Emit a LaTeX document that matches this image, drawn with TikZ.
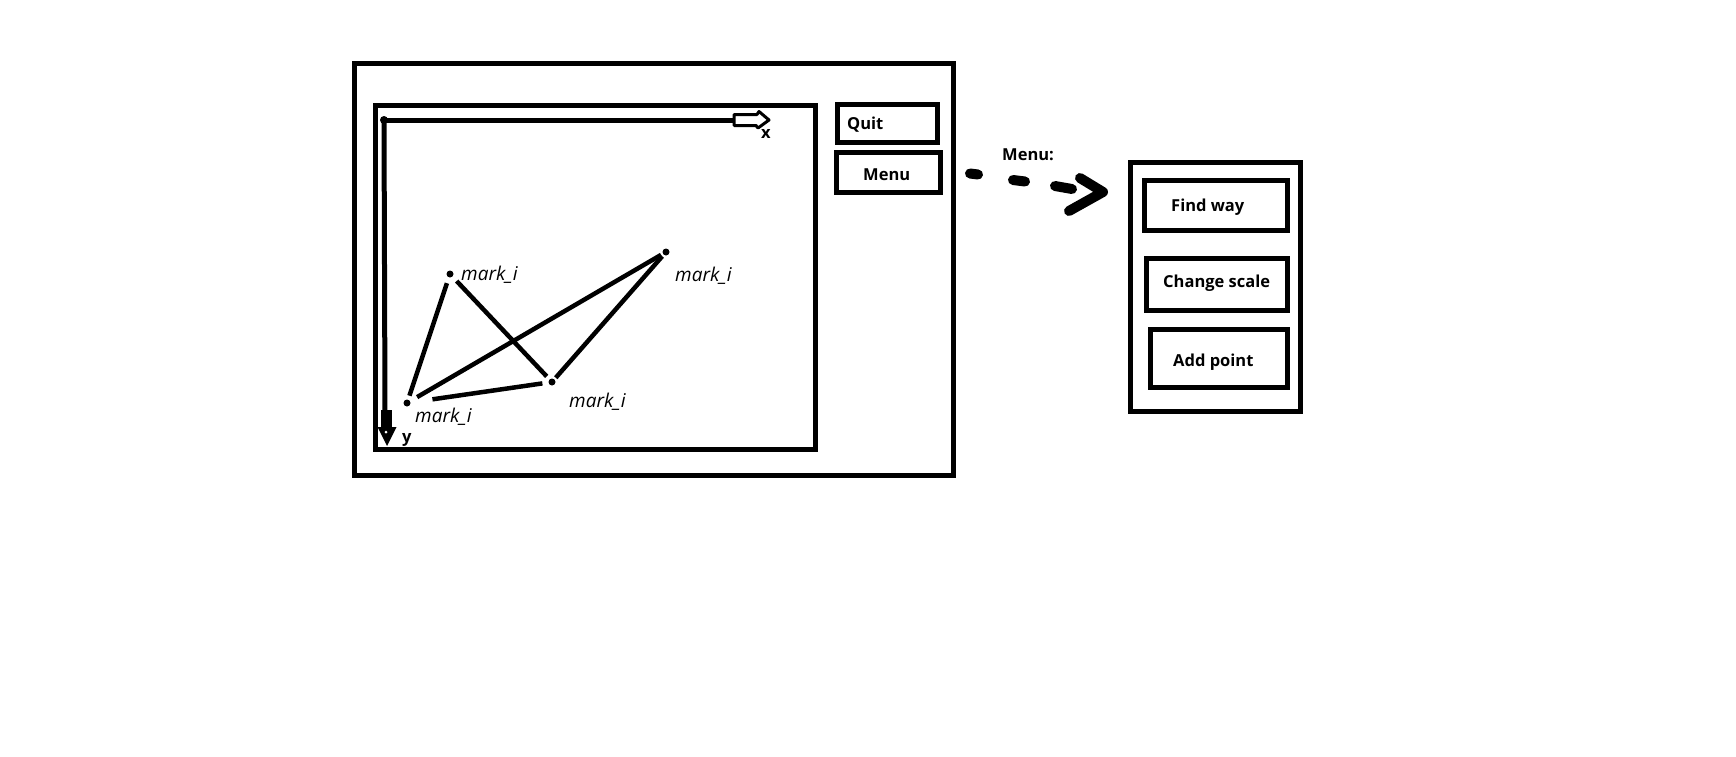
\documentclass[tikz,border=0pt]{standalone}
\usepackage{fontspec}
\setmainfont{Open Sans}
\begin{document}
\begin{tikzpicture}[x=1pt,y=-1pt,
  box/.style={draw,line width=5pt,inner sep=0pt,minimum width=#1},
  btntext/.style={anchor=base west,inner sep=0pt,font=\fontsize{16.5}{18}\selectfont\bfseries},
  marktext/.style={anchor=base west,inner sep=0pt,font=\fontsize{19}{21}\selectfont\itshape},
  dot/.style={circle,fill,inner sep=0pt,minimum size=7pt},
  edge/.style={line width=4.5pt,shorten <=#1},
  stroke/.style={line width=10pt,line cap=round,line join=round}]
\useasboundingbox (0,0) rectangle (1736,756);
\fill[white] (0,0) rectangle (1736,756);
% frames
\node[box=599pt,minimum height=412pt] (outer) at (653.5,269) {};
\node[box=440pt,minimum height=344pt] (inner) at (595,277) {};
\node[box=100pt,minimum height=38pt] (quit) at (887,123) {};
\node[box=104pt,minimum height=40pt] (menu) at (888,172) {};
\node[box=170pt,minimum height=249pt] (panel) at (1215,286.5) {};
\node[box=143pt,minimum height=50pt] (find) at (1215.5,205) {};
\node[box=141pt,minimum height=52pt] (change) at (1216.5,284) {};
\node[box=137pt,minimum height=58pt] (add) at (1218.5,358) {};
% button texts
\node[btntext] (quitt) at (847,129) {Quit};
\node[btntext] (menut) at (863,180) {Menu};
\node[btntext] (findt) at (1171,211) {Find way};
\node[btntext] (changet) at (1163,287) {Change scale};
\node[btntext] (addt) at (1173,366) {Add point};
\node[btntext] (menulab) at (1002,160) {Menu:};
% axes
\node[dot,minimum size=8pt] (o) at (384,120) {};
\coordinate (xend) at (735,120);
\coordinate (yend) at (385,412);
\draw[line width=5pt] (o.center) -- (xend);
\draw[line width=5pt] (o.center) -- (yend);
\draw[line width=3pt,line join=round,fill=white]
  (734,114.5) -- (757,114.5) -- (759,111.5) -- (769,120) -- (758,128) -- (756,125.5) -- (734,125.5) -- cycle;
\fill (380.5,410) rectangle (391.5,430);
\fill (377.5,427) -- (396.5,427) -- (387,446) -- cycle;
\fill[white] (386,432) circle (1.5);
\node[btntext] (xl) at (761,138) {x};
\node[btntext] (yl) at (402,442) {y};
% marks
\node[dot] (p1) at (450,274) {};
\node[dot] (p2) at (666,252) {};
\node[dot] (p3) at (552,382) {};
\node[dot] (p4) at (407,403) {};
\node[marktext] (l1) at (461,280) {mark\_i};
\node[marktext] (l2) at (675,281) {mark\_i};
\node[marktext] (l3) at (569,407) {mark\_i};
\node[marktext] (l4) at (415,422) {mark\_i};
\draw[edge=6pt,shorten >=4pt] (p1) -- (p4);
\draw[edge=6pt,shorten >=4pt] (p1) -- (p3);
\draw[edge=8pt,shorten >=2pt] (p4) -- (p2);
\draw[edge=2pt,shorten >=2pt] (p2) -- (p3);
\draw[edge=22pt,shorten >=6pt] (p4) -- (p3);
% hand-drawn dashed arrow to menu panel
\coordinate (a1) at (970,173.5);
\coordinate (a2) at (978,174.5);
\coordinate (a3) at (1013,180);
\coordinate (a4) at (1025,181.5);
\coordinate (a5) at (1055,186);
\coordinate (a6) at (1072,189);
\coordinate (h1) at (1080,178);
\coordinate (tip) at (1103,192);
\coordinate (h2) at (1069,211);
\draw[stroke] (a1) -- (a2);
\draw[stroke] (a3) -- (a4);
\draw[stroke] (a5) -- (a6);
\draw[stroke] (h1) -- (tip) -- (h2);
\end{tikzpicture}
\end{document}
